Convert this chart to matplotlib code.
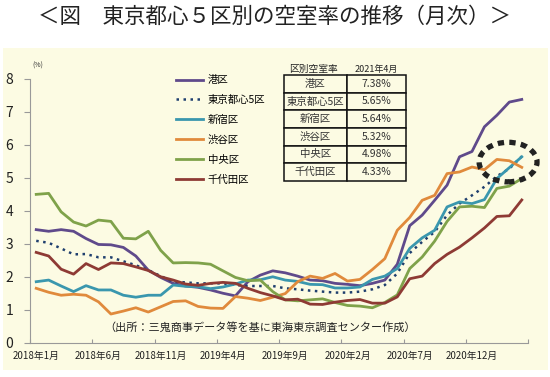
import matplotlib
matplotlib.use("Agg")
from matplotlib import pyplot as plt
from matplotlib.patches import Rectangle, Ellipse

plt.rcParams["font.family"] = ["Noto Sans CJK JP", "DejaVu Sans"]

title = "＜図　東京都心５区別の空室率の推移（月次）＞"
source = "（出所：三鬼商事データ等を基に東海東京調査センター作成）"

# monthly, 2018年1月 - 2021年4月 (40 months)
tick_labels = ["2018年1月", "2018年6月", "2018年11月", "2019年4月",
               "2019年9月", "2020年2月", "2020年7月", "2020年12月"]

minato = [3.43, 3.38, 3.43, 3.38, 3.16, 2.98, 2.97, 2.89, 2.63, 2.20,
          1.98, 1.80, 1.72, 1.68, 1.60, 1.50, 1.42, 1.85, 2.05, 2.18,
          2.12, 2.02, 1.90, 1.88, 1.80, 1.77, 1.73, 1.80, 1.90, 2.38,
          3.55, 3.87, 4.32, 4.78, 5.64, 5.80, 6.55, 6.90, 7.30, 7.38]
toshin5 = [3.09, 3.03, 2.86, 2.68, 2.69, 2.59, 2.59, 2.47, 2.35, 2.20,
           2.02, 1.85, 1.83, 1.80, 1.80, 1.80, 1.75, 1.72, 1.72, 1.72,
           1.65, 1.62, 1.58, 1.55, 1.52, 1.52, 1.55, 1.62, 1.75, 2.10,
           2.72, 3.06, 3.36, 3.87, 4.22, 4.47, 4.73, 5.05, 5.28, 5.65]
shinjuku = [1.85, 1.90, 1.72, 1.55, 1.73, 1.60, 1.60, 1.44, 1.38, 1.44,
            1.44, 1.75, 1.71, 1.70, 1.64, 1.69, 1.78, 1.90, 1.91, 2.00,
            1.90, 1.86, 1.77, 1.76, 1.66, 1.66, 1.69, 1.92, 2.02, 2.25,
            2.86, 3.18, 3.41, 4.12, 4.27, 4.22, 4.34, 4.98, 5.31, 5.64]
shibuya = [1.65, 1.53, 1.44, 1.47, 1.44, 1.24, 0.87, 0.96, 1.06, 0.93,
           1.09, 1.25, 1.27, 1.10, 1.05, 1.04, 1.40, 1.35, 1.28, 1.38,
           1.49, 1.85, 2.02, 1.95, 2.10, 1.87, 1.92, 2.22, 2.55, 3.41,
           3.80, 4.32, 4.47, 5.13, 5.18, 5.33, 5.25, 5.56, 5.52, 5.32]
chuo = [4.50, 4.53, 3.97, 3.66, 3.54, 3.72, 3.68, 3.17, 3.15, 3.38,
        2.80, 2.42, 2.43, 2.42, 2.38, 2.18, 1.98, 1.88, 1.90, 1.55,
        1.30, 1.27, 1.30, 1.33, 1.22, 1.13, 1.11, 1.06, 1.22, 1.45,
        2.25, 2.60, 3.08, 3.68, 4.12, 4.14, 4.10, 4.68, 4.75, 4.98]
chiyoda = [2.74, 2.63, 2.23, 2.08, 2.40, 2.22, 2.42, 2.40, 2.30, 2.19,
           2.00, 1.90, 1.78, 1.74, 1.80, 1.83, 1.80, 1.65, 1.52, 1.42,
           1.30, 1.32, 1.17, 1.16, 1.23, 1.28, 1.31, 1.20, 1.20, 1.39,
           1.94, 2.02, 2.40, 2.68, 2.90, 3.18, 3.48, 3.83, 3.85, 4.33]

table_names = ["港区", "東京都心5区", "新宿区", "渋谷区", "中央区", "千代田区"]
table_values = ["7.38%", "5.65%", "5.64%", "5.32%", "4.98%", "4.33%"]

bg = "#FCFBE3"

fig = plt.figure(figsize=(5.5, 3.77), dpi=100)
fig.patches.append(Rectangle((3 / 550, 7 / 377), 545 / 550, 322 / 377,
                             transform=fig.transFigure, facecolor=bg,
                             edgecolor="none", zorder=-1))
fig.text(0.5, 0.955, title, ha="center", va="center", fontsize=15.5, color="#222222")

ax = fig.add_axes([30 / 550, 1 - 342.7 / 377, 498 / 550, 263.7 / 377])
ax.set_facecolor("none")

x = list(range(len(minato)))
ax.plot(x, minato, color="#5F4A8B", lw=2, label="港区")
ax.plot(x, toshin5, color="#1F3F6E", lw=1.8, ls=(0, (1, 1.8)), label="東京都心5区")
ax.plot(x, shinjuku, color="#3A97AE", lw=2, label="新宿区")
ax.plot(x, shibuya, color="#E08A3C", lw=2, label="渋谷区")
ax.plot(x, chuo, color="#7FA24A", lw=2, label="中央区")
ax.plot(x, chiyoda, color="#8E3A34", lw=2, label="千代田区")

ax.add_patch(Ellipse((37.9, 5.48), 4.65, 1.2, fill=False, edgecolor="#222222",
                     lw=3.8, ls=(0, (1.2, 1.0)), zorder=5, clip_on=False))

ax.set_xlim(-0.5, 39.5)
ax.set_ylim(0, 8)
ax.set_xticks([i - 0.5 for i in range(0, 41, 5)])
ax.set_xticklabels([])
ax.set_xticks(list(range(0, 40, 5)), minor=True)
ax.set_xticklabels(tick_labels, minor=True, fontsize=7, color="#222222")
ax.tick_params(axis="x", which="major", direction="in", length=3, color="#999999")
ax.tick_params(axis="x", which="minor", length=0, pad=6)
ax.set_yticks(range(0, 9))
ax.tick_params(axis="y", direction="out", length=4, color="#999999",
               labelsize=10, pad=8, labelcolor="#222222")
for s in ["top", "right"]:
    ax.spines[s].set_visible(False)
for s in ["left", "bottom"]:
    ax.spines[s].set_color("#999999")

ax.text(0.004, 1.045, "(%)", transform=ax.transAxes, fontsize=5, color="#333333")

ax.legend(loc="upper left", bbox_to_anchor=(0.275, 1.05), frameon=False,
          fontsize=7.5, handlelength=2.6, handletextpad=0.4, labelspacing=0.95)

tbl = ax.table(cellText=[[n, v] for n, v in zip(table_names, table_values)],
               colWidths=[63, 59], cellLoc="center",
               bbox=[254 / 498, (342.7 - 181) / 263.7, 122 / 498, 106 / 263.7])
tbl.auto_set_font_size(False)
tbl.set_fontsize(7.5)
for cell in tbl.get_celld().values():
    cell.set_facecolor(bg)
    cell.set_edgecolor("#111111")
    cell.set_linewidth(1.1)
    cell.get_text().set_color("#333333")
fig.text(313 / 550, 1 - 69 / 377, "区別空室率", ha="center", va="center",
         fontsize=7, color="#222222")
fig.text(376 / 550, 1 - 69 / 377, "2021年4月", ha="center", va="center",
         fontsize=6.5, color="#222222")

fig.text(260 / 550, 1 - 327 / 377, source, ha="center", va="center",
         fontsize=8, color="#222222")

fig.savefig("out.png", dpi=100)
